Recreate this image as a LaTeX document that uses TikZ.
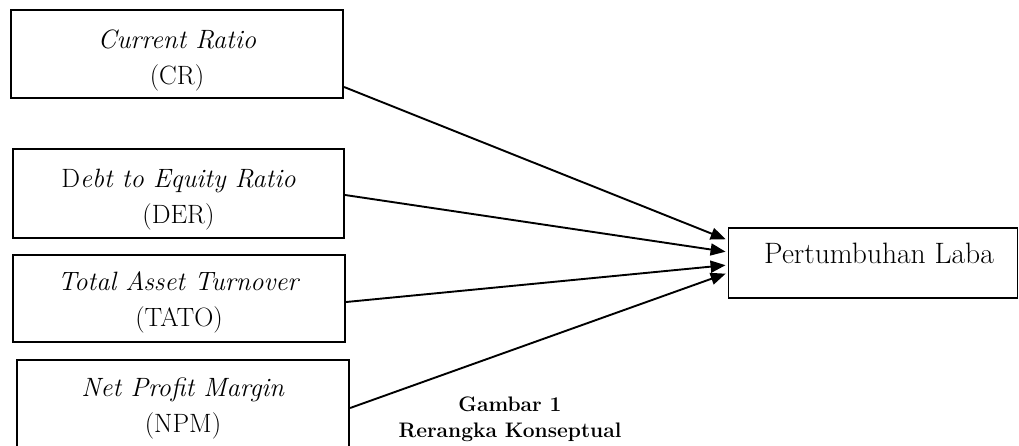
\documentclass[tikz,border=0pt]{standalone}
\usetikzlibrary{arrows.meta,calc}
\begin{document}
\begin{tikzpicture}[x=1pt,y=-1pt,
  box/.style={draw, line width=2.2pt, rectangle, inner sep=0pt},
  lbl/.style={anchor=base, align=center, inner sep=0pt, font=\fontsize{26.5}{36}\selectfont},
  conn/.style={line width=1.9pt, -{Triangle[length=15pt,width=12pt]}, shorten >=2pt}]
\clip (0,0) rectangle (1019,445);
% boxes
\node[box, minimum width=332pt, minimum height=88pt] (cr) at (177,54) {};
\node[box, minimum width=331pt, minimum height=89pt] (der) at (178.5,193.5) {};
\node[box, minimum width=332pt, minimum height=87pt] (tato) at (179,298.5) {};
\node[box, minimum width=332pt, minimum height=88pt] (npm) at (183,404) {};
\node[box, line width=1.9pt, minimum width=289pt, minimum height=70pt] (pl) at (873,263) {};
% texts (base anchor = baseline of last line)
\node[lbl] (crt) at (177,84) {\textit{Current Ratio}\\(CR)};
\node[lbl] (dert) at (178.5,223) {D\textit{ebt to Equity Ratio}\\(DER)};
\node[lbl] (tatot) at (179,326) {\textit{Total Asset Turnover}\\(TATO)};
\node[lbl] (npmt) at (183,432) {\textit{Net Profit Margin}\\(NPM)};
\node[anchor=base, inner sep=0pt, font=\fontsize{29.5}{34}\selectfont] (plt) at (879,263) {Pertumbuhan Laba};
\node[anchor=base, align=center, inner sep=0pt, font=\fontsize{21}{26}\selectfont\bfseries] (cap) at (510,437) {Gambar 1\\Rerangka Konseptual};
% connectors
\draw[conn] ([yshift=-33pt]cr.east) -- ([yshift=23pt]pl.west);
\draw[conn] ([yshift=-1.5pt]der.east) -- ([yshift=11pt]pl.west);
\draw[conn] ([yshift=-3.5pt]tato.east) -- ([yshift=-2pt]pl.west);
\draw[conn] ([yshift=-4pt]npm.east) -- ([yshift=-10pt]pl.west);
\end{tikzpicture}
\end{document}
